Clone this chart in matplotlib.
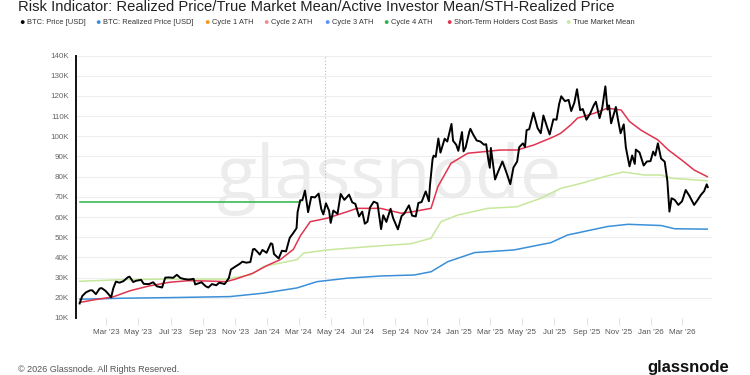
import matplotlib
matplotlib.use("Agg")
import matplotlib.pyplot as plt
import matplotlib.dates as mdates
import pandas as pd

# ---------- data ----------
price_dates = [
    "2023-01-09", "2023-01-14", "2023-01-21", "2023-01-29", "2023-02-02", "2023-02-09", "2023-02-16",
    "2023-02-20", "2023-02-27", "2023-03-03", "2023-03-10", "2023-03-14", "2023-03-19", "2023-03-26",
    "2023-04-02", "2023-04-11", "2023-04-14", "2023-04-21", "2023-04-26", "2023-05-06", "2023-05-11",
    "2023-05-21", "2023-05-29", "2023-06-05", "2023-06-15", "2023-06-21", "2023-06-28", "2023-07-06",
    "2023-07-13", "2023-07-20", "2023-07-27", "2023-08-05", "2023-08-14", "2023-08-17", "2023-08-29",
    "2023-09-06", "2023-09-11", "2023-09-18", "2023-09-26", "2023-10-02", "2023-10-12", "2023-10-20",
    "2023-10-24", "2023-11-01", "2023-11-09", "2023-11-15", "2023-11-22", "2023-11-30", "2023-12-05",
    "2023-12-08", "2023-12-13", "2023-12-18", "2023-12-23", "2023-12-31",
    "2024-01-08", "2024-01-11", "2024-01-14", "2024-01-23", "2024-01-29", "2024-02-06", "2024-02-13",
    "2024-02-19", "2024-02-26", "2024-02-28", "2024-03-04", "2024-03-08", "2024-03-13", "2024-03-19",
    "2024-03-25", "2024-04-01", "2024-04-08", "2024-04-13", "2024-04-17", "2024-04-22", "2024-04-28",
    "2024-05-01", "2024-05-06", "2024-05-14", "2024-05-20", "2024-05-27", "2024-06-05", "2024-06-11",
    "2024-06-17", "2024-06-24", "2024-06-30", "2024-07-05", "2024-07-10", "2024-07-15", "2024-07-22",
    "2024-07-29", "2024-08-05", "2024-08-09", "2024-08-15", "2024-08-23", "2024-08-28", "2024-09-06",
    "2024-09-13", "2024-09-18", "2024-09-27", "2024-10-03", "2024-10-10", "2024-10-15", "2024-10-21",
    "2024-10-29", "2024-11-04", "2024-11-06", "2024-11-11", "2024-11-13", "2024-11-17", "2024-11-22",
    "2024-11-26", "2024-12-04", "2024-12-09", "2024-12-17", "2024-12-20", "2024-12-26", "2024-12-30",
    "2025-01-06", "2025-01-09", "2025-01-13", "2025-01-20", "2025-01-22", "2025-01-27", "2025-02-03",
    "2025-02-10", "2025-02-17", "2025-02-21", "2025-02-25", "2025-02-28", "2025-03-02", "2025-03-10",
    "2025-03-16", "2025-03-24", "2025-03-31", "2025-04-08", "2025-04-14", "2025-04-21", "2025-04-25",
    "2025-05-02", "2025-05-06", "2025-05-09", "2025-05-14", "2025-05-22", "2025-05-30", "2025-06-05",
    "2025-06-10", "2025-06-17", "2025-06-22", "2025-06-29", "2025-07-05", "2025-07-10", "2025-07-14",
    "2025-07-21", "2025-07-28", "2025-08-02", "2025-08-08", "2025-08-13", "2025-08-19", "2025-08-24",
    "2025-08-31", "2025-09-07", "2025-09-14", "2025-09-18", "2025-09-25", "2025-09-30", "2025-10-06",
    "2025-10-10", "2025-10-13", "2025-10-17", "2025-10-26", "2025-10-30", "2025-11-04", "2025-11-10",
    "2025-11-14", "2025-11-21", "2025-11-26", "2025-12-01", "2025-12-03", "2025-12-10", "2025-12-18",
    "2025-12-24", "2025-12-31",
    "2026-01-05", "2026-01-09", "2026-01-14", "2026-01-20", "2026-01-27", "2026-02-01", "2026-02-05",
    "2026-02-09", "2026-02-15", "2026-02-22", "2026-03-01", "2026-03-08", "2026-03-15", "2026-03-24",
    "2026-03-30", "2026-04-06", "2026-04-12", "2026-04-17", "2026-04-19",
]
price_values = [
    17200, 20900, 22700, 23700, 23700, 21800, 24600,
    24800, 23500, 22400, 20200, 24700, 28000, 27500,
    28200, 30200, 30500, 27800, 28400, 28900, 26900,
    26800, 27700, 25700, 25100, 30000, 30100, 29900,
    31400, 29800, 29300, 29000, 29400, 26600, 27700,
    25700, 25100, 26800, 26200, 27500, 26800, 29700,
    34000, 35400, 36700, 37900, 37400, 37700, 44000,
    44200, 42900, 41400, 43700, 42300,
    47000, 46600, 41700, 39500, 43300, 43000, 49700,
    51800, 54500, 62500, 68300, 68300, 73100, 62400,
    70000, 69700, 71600, 64000, 61300, 66800, 63100,
    57100, 63200, 61600, 71400, 68500, 71100, 67300,
    66500, 60300, 62700, 56700, 57700, 64800, 67600,
    66800, 54000, 60900, 57600, 64100, 59400, 53900,
    60500, 61700, 65800, 60700, 60300, 67000, 67400,
    72700, 67800, 75600, 88700, 90400, 89800, 98900,
    91900, 98800, 97400, 106100, 97800, 95800, 92800,
    102100, 92500, 94500, 102300, 103700, 101000, 97900,
    97400, 95800, 96100, 88700, 84400, 94200, 78600,
    82600, 87500, 82500, 76300, 84500, 87500, 94600,
    96500, 94700, 103000, 103500, 111700, 104000, 101500,
    110300, 104600, 100900, 108400, 108200, 116000, 119800,
    117400, 118000, 112500, 116700, 123300, 112900, 113500,
    108200, 111200, 115400, 117100, 109000, 114000, 124700,
    113200, 115300, 106400, 114500, 108300, 101500, 105900,
    94500, 85100, 90500, 86300, 93400, 92000, 85500,
    87500, 87700,
    92400, 90500, 96500, 89000, 87400, 78000, 62700,
    69300, 68500, 66000, 67800, 73400, 70500, 66000,
    68200, 71000, 72800, 76200, 74800,
]

realized_dates = [
    "2023-01-09", "2023-04-01", "2023-07-01", "2023-10-22", "2023-12-25", "2024-02-27", "2024-04-05",
    "2024-06-01", "2024-08-04", "2024-10-07", "2024-11-08", "2024-12-10", "2025-01-30", "2025-04-15",
    "2025-06-24", "2025-07-26", "2025-10-10", "2025-11-18", "2026-01-20", "2026-02-15", "2026-04-18",
]
realized_values = [
    19300, 19800, 20100, 20600, 22300, 24900, 28000,
    29700, 30800, 31300, 32900, 37900, 42400, 43700,
    47300, 51100, 55300, 56400, 55800, 54200, 54000,
]

sth_dates = [
    "2023-01-09", "2023-02-10", "2023-03-13", "2023-04-15", "2023-05-20", "2023-06-29", "2023-08-05",
    "2023-09-10", "2023-10-15", "2023-11-01", "2023-12-05", "2024-01-01", "2024-01-26", "2024-02-20",
    "2024-03-04", "2024-03-23", "2024-04-24", "2024-06-01", "2024-06-20", "2024-08-04", "2024-09-12",
    "2024-10-01", "2024-11-08", "2024-11-21", "2024-12-16", "2025-01-17", "2025-02-18", "2025-03-20",
    "2025-04-21", "2025-05-23", "2025-06-30", "2025-07-13", "2025-08-01", "2025-08-14", "2025-09-15",
    "2025-10-10", "2025-11-05", "2025-11-21", "2025-12-13", "2026-01-14", "2026-02-03", "2026-02-28",
    "2026-03-24", "2026-04-18",
]
sth_values = [
    17700, 19200, 20400, 23500, 25800, 27700, 28500,
    28300, 28000, 29200, 32200, 36000, 38900, 44000,
    50600, 57700, 59400, 62600, 64300, 64300, 61900,
    62500, 64300, 75000, 86600, 91600, 92400, 93200,
    93200, 95700, 99800, 101500, 105600, 109000, 111400,
    113900, 113000, 107300, 103000, 98200, 93200, 88300,
    83300, 80000,
]

tmm_dates = [
    "2023-01-09", "2023-04-01", "2023-07-01", "2023-10-15", "2023-11-30", "2023-12-25", "2024-02-27",
    "2024-03-10", "2024-04-24", "2024-07-16", "2024-10-01", "2024-11-08", "2024-11-27", "2024-12-29",
    "2025-02-24", "2025-04-21", "2025-06-05", "2025-07-13", "2025-08-21", "2025-10-04", "2025-11-09",
    "2025-12-20", "2026-01-20", "2026-02-09", "2026-04-18",
]
tmm_values = [
    28200, 29000, 29300, 29300, 31300, 35500, 38900,
    42100, 43700, 45400, 46800, 49500, 57700, 61000,
    64300, 65100, 69300, 74200, 76700, 80000, 82300,
    80800, 80800, 79200, 78000,
]

cycle4_dates = ["2023-01-09", "2024-03-04"]
cycle4_values = [67500, 67500]

halving_date = "2024-04-20"

legend_labels = ["BTC: Price [USD]", "BTC: Realized Price [USD]", "Cycle 1 ATH", "Cycle 2 ATH",
                 "Cycle 3 ATH", "Cycle 4 ATH", "Short-Term Holders Cost Basis", "True Market Mean"]
legend_colors = ["#000000", "#3b8fd9", "#f7931a", "#f28b8b", "#5b8ff9", "#2fb344", "#e0344f", "#c6e89c"]

y_ticks = [10000, 20000, 30000, 40000, 50000, 60000, 70000, 80000, 90000, 100000, 110000, 120000, 130000, 140000]
y_tick_labels = ["10K", "20K", "30K", "40K", "50K", "60K", "70K", "80K", "90K", "100K", "110K", "120K", "130K", "140K"]

# ---------- plot ----------
plt.rcParams['font.family'] = ['Liberation Sans', 'DejaVu Sans']

fig = plt.figure(figsize=(7.5, 3.75), dpi=100)
ax = fig.add_axes([0.1013, 0.152, 0.8480, 0.700])

ax.plot(pd.to_datetime(realized_dates), realized_values, color=legend_colors[1], lw=1.1, zorder=3)
ax.plot(pd.to_datetime(tmm_dates), tmm_values, color=legend_colors[7], lw=1.1, zorder=3)
ax.plot(pd.to_datetime(sth_dates), sth_values, color=legend_colors[6], lw=1.1, zorder=4)
ax.plot(pd.to_datetime(cycle4_dates), cycle4_values, color=legend_colors[5], lw=1.1, zorder=3)
ax.plot(pd.to_datetime(price_dates), price_values, color="black", lw=1.4, zorder=5)

ax.axvline(pd.to_datetime(halving_date), color="#bbbbbb", lw=0.8, ls=(0, (1, 2)), zorder=1)
ax.axhline(10000, color="#bbbbbb", lw=0.8, ls=(0, (1, 2)), zorder=1)
for v in y_ticks[1:]:
    ax.axhline(v, color="#eeeeee", lw=0.8, zorder=0)

ax.set_xlim(pd.Timestamp("2023-01-02"), pd.Timestamp("2026-04-27"))
ax.set_ylim(10000, 140000)
ax.set_yticks(y_ticks)
ax.set_yticklabels(y_tick_labels)

ax.xaxis.set_major_locator(mdates.MonthLocator(bymonth=[1, 3, 5, 7, 9, 11]))
ax.xaxis.set_major_formatter(mdates.DateFormatter("%b '%y"))

ax.tick_params(axis="y", length=0, labelsize=5.8, labelcolor="#666666", pad=5)
ax.tick_params(axis="x", length=5, width=0.6, color="#dddddd", labelsize=5.8,
               labelcolor="#555555", pad=3)

for s in ["top", "right", "bottom"]:
    ax.spines[s].set_visible(False)
ax.spines["left"].set_linewidth(1.4)
ax.spines["left"].set_color("#111111")

# watermark
ax.text(0.493, 0.53, "glassnode", transform=ax.transAxes, fontsize=53, color="#ececec",
        ha="center", va="center", family="Open Sans", zorder=0)

# title
fig.text(0.024, 0.999, "Risk Indicator: Realized Price/True Market Mean/Active Investor Mean/STH-Realized Price",
         fontsize=10.6, color="#222222", ha="left", va="top")

# legend row
legend_x = [21.8, 98, 207, 266, 326.6, 386, 449, 568]
for lx, lab, col in zip(legend_x, legend_labels, legend_colors):
    fig.text(lx / 750, 1 - 23 / 375, "\u25CF", color=col, fontsize=6.5, ha="center", va="center")
    fig.text((lx + 5) / 750, 1 - 23 / 375, lab, color="#333333", fontsize=5.4, ha="left", va="center")

# footer
fig.text(0.024, 0.003, "\u00A9 2026 Glassnode. All Rights Reserved.", fontsize=6.5,
         color="#555555", ha="left", va="bottom")
fig.text(0.972, 0.0, "glassnode", fontsize=12, fontweight="bold", color="#111111",
         ha="right", va="bottom")

fig.savefig("out.png", dpi=100)
